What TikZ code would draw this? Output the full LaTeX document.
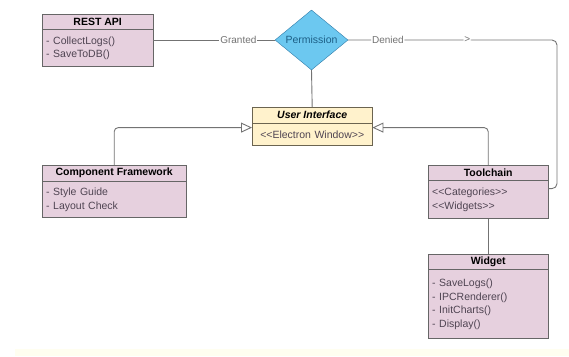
\documentclass[tikz,border=0pt]{standalone}
\usepackage{fontspec}
\setmainfont{Liberation Sans}[Ligatures=TeXOff]
\usepackage{tikz}
\usetikzlibrary{shapes.geometric,positioning,arrows.meta}

\definecolor{classpink}{HTML}{E6D0DE}
\definecolor{classline}{HTML}{666666}
\definecolor{uiyellow}{HTML}{FFF2CC}
\definecolor{uiline}{HTML}{6B6450}
\definecolor{permblue}{HTML}{6CC8F0}
\definecolor{permline}{HTML}{2F7BA8}
\definecolor{permtext}{HTML}{1D5F86}
\definecolor{edgegray}{HTML}{737373}
\definecolor{textgray}{HTML}{4F4452}
\definecolor{bandyellow}{HTML}{FFFEF0}

\tikzset{
	classhead/.style = {draw=classline, fill=classpink, anchor=north west, minimum height=15pt, inner sep=0pt, font=\fontsize{10.5}{12}\selectfont\bfseries},
	classbody/.style = {draw=classline, fill=classpink, anchor=north, inner xsep=4pt, inner ysep=0pt, align=left, text=textgray, font=\fontsize{10.5}{13.5}\selectfont},
	decision/.style = {diamond, draw=permline, fill=permblue, minimum width=73pt, minimum height=60pt, inner sep=0pt, text=permtext, font=\fontsize{10.5}{12}\selectfont},
	edge/.style = {draw=edgegray, line width=0.9pt},
	inherit/.style = {edge, rounded corners=4pt, -{Triangle[open, length=11pt, width=10pt, fill=white]}},
	edgelabel/.style = {fill=white, inner sep=1pt, text=edgegray, font=\fontsize{10}{12}\selectfont}
}

\begin{document}
\begin{tikzpicture}[x=1pt, y=-1pt]
	\useasboundingbox (0,0) rectangle (569,356);
	\fill[bandyellow] (15,349) rectangle (569,356); % band

	% classes
	\node[classhead, minimum width=111pt] (restapi) at (42,14) {REST API};
	\node[classbody, text width=103pt, minimum height=37pt, below=0pt of restapi] (restapibody) {- CollectLogs()\\- SaveToDB()};

	\node[decision] (permission) at (311.5,40) {Permission};

	\node[classhead, minimum width=120pt, minimum height=16pt, fill=uiyellow, draw=uiline, font=\fontsize{10.5}{12}\selectfont\bfseries\itshape] (uihead) at (252,107) {User Interface};
	\node[classbody, text width=112pt, minimum height=22pt, fill=uiyellow, draw=uiline, align=center, below=0pt of uihead] (uibody) {<<Electron Window>>};

	\node[classhead, minimum width=144pt, minimum height=16pt] (component) at (42,165) {Component Framework};
	\node[classbody, text width=136pt, minimum height=36pt, below=0pt of component] (componentbody) {- Style Guide\\- Layout Check};

	\node[classhead, minimum width=120pt] (toolchain) at (428,165) {Toolchain};
	\node[classbody, text width=112pt, minimum height=38pt, below=0pt of toolchain] (toolchainbody) {<<Categories>>\\<<Widgets>>};

	\node[classhead, minimum width=120pt] (widget) at (428,254) {Widget};
	\node[classbody, text width=112pt, minimum height=69pt, below=0pt of widget] (widgetbody) {- SaveLogs()\\- IPCRenderer()\\- InitCharts()\\- Display()};

	% connectors
	\coordinate (deniedturn) at (557,40);
	\draw[edge] (restapibody.east |- permission.west) -- node[edgelabel, pos=0.7] {Granted} (permission.west);
	\draw[edge, rounded corners=5pt] (permission.east) -- node[edgelabel, pos=0.19] {Denied} node[edgelabel, pos=0.57] {>} (deniedturn) |- ([yshift=11pt]toolchainbody.east);
	\draw[edge] (permission.south) -- (uihead.north);
	\draw[inherit] (component.north) |- ([yshift=7pt]uibody.west);
	\draw[inherit] (toolchain.north) |- ([yshift=7pt]uibody.east);
	\draw[edge] (toolchainbody.south) -- (widget.north);
\end{tikzpicture}
\end{document}
